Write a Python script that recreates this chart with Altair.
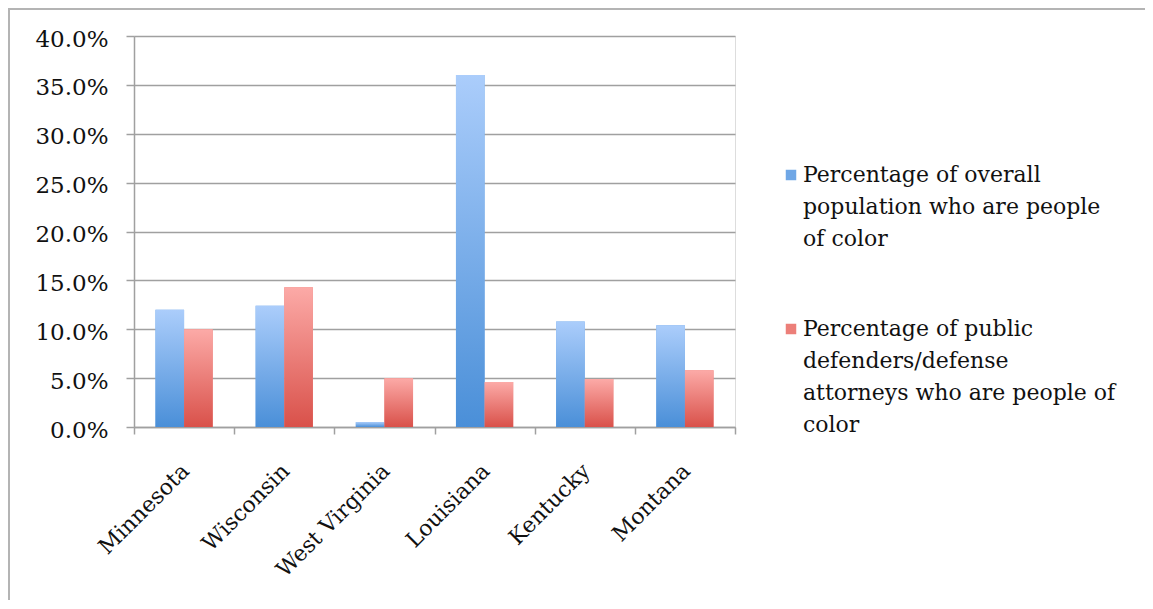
import altair as alt
import pandas as pd

states = ["Minnesota", "Wisconsin", "West Virginia", "Louisiana", "Kentucky", "Montana"]
population_poc = [0.120, 0.124, 0.005, 0.360, 0.108, 0.104]
defenders_poc = [0.100, 0.143, 0.050, 0.046, 0.049, 0.058]
series = [
    "Percentage of overall|population who are people|of color",
    "Percentage of public|defenders/defense|attorneys who are people of|color",
]
y_ticks = [0.0, 0.05, 0.10, 0.15, 0.20, 0.25, 0.30, 0.35, 0.40]

rows = []
for s, a, b in zip(states, population_poc, defenders_poc):
    rows.append({"state": s, "series": series[0], "value": a})
    rows.append({"state": s, "series": series[1], "value": b})
df = pd.DataFrame(rows)

FONT = "DejaVu Serif"
GRID = "#a0a0a0"

blue_grad = alt.LinearGradient(
    gradient="linear", x1=0, y1=0, x2=0, y2=1,
    stops=[alt.GradientStop(color="#abcdfb", offset=0),
           alt.GradientStop(color="#4a8fd8", offset=1)],
)
red_grad = alt.LinearGradient(
    gradient="linear", x1=0, y1=0, x2=0, y2=1,
    stops=[alt.GradientStop(color="#fcaaa7", offset=0),
           alt.GradientStop(color="#d9514a", offset=1)],
)

base = alt.Chart(df).encode(
    x=alt.X(
        "state:N", sort=states, title=None,
        scale=alt.Scale(paddingInner=0, paddingOuter=0),
        axis=alt.Axis(
            labelAngle=-45, labelFont=FONT, labelFontSize=22, labelColor="#111111",
            tickBand="extent", tickSize=7, tickColor=GRID, domainColor=GRID,
            tickWidth=1.5, domainWidth=1.5, labelPadding=26, labelOffset=-6,
            grid=False,
        ),
    ),
    xOffset=alt.XOffset(
        "series:N", sort=series,
        scale=alt.Scale(paddingInner=0, paddingOuter=0.75),
    ),
    y=alt.Y(
        "value:Q", title=None,
        scale=alt.Scale(domain=[0, 0.4], nice=False),
        axis=alt.Axis(
            values=y_ticks, format=".1%", labelFont=FONT, labelFontSize=23,
            labelColor="#111111", tickSize=8, tickColor=GRID, domainColor=GRID,
            gridColor=GRID, tickWidth=1.5, domainWidth=1.5, gridWidth=1.5,
            labelPadding=18, labelOffset=3, grid=True,
        ),
    ),
)

legend_layer = base.mark_bar().encode(
    color=alt.Color(
        "series:N", sort=series,
        scale=alt.Scale(domain=series, range=["#6fa7e6", "#ec7f79"]),
        legend=alt.Legend(
            title=None, orient="none", legendX=646, legendY=128,
            symbolType="square", symbolSize=110, symbolStrokeWidth=0,
            labelFont=FONT, labelFontSize=22, labelColor="#111111",
            labelExpr="split(datum.label, '|')", labelLimit=600,
            labelBaseline="middle", rowPadding=68, labelOffset=1,
        ),
    )
)

blue_layer = base.mark_bar(color=blue_grad).transform_filter(
    alt.datum.series == series[0]
)
red_layer = base.mark_bar(color=red_grad).transform_filter(
    alt.datum.series == series[1]
)

frame_top = alt.Chart(df).mark_rule(color="#b4b4b4", strokeWidth=2).encode(
    x=alt.value(-126), x2=alt.value(1011), y=alt.value(-27)
)
frame_left = alt.Chart(df).mark_rule(color="#b4b4b4", strokeWidth=2).encode(
    x=alt.value(-125), y=alt.value(-28), y2=alt.value(564)
)

chart = alt.layer(legend_layer, blue_layer, red_layer, frame_top, frame_left).properties(
    width=601, height=391,
    autosize=alt.AutoSizeParams(type="none"),
    padding={"left": 126, "top": 28, "right": 410, "bottom": 173},
).configure_view(stroke=None).configure(
    style={"guide-label": {"lineHeight": 32}}
)

chart.save("out.html", embed_options={"renderer": "svg", "actions": False})
